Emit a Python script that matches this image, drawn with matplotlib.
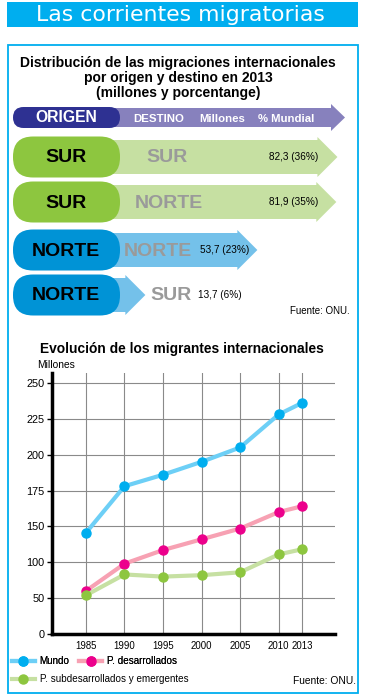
import matplotlib.pyplot as plt
import numpy as np
from matplotlib.patches import FancyBboxPatch, Polygon, Rectangle

plt.rcParams['font.family'] = ['Liberation Sans', 'DejaVu Sans']

# flows 2013 (millions, % of world)
origins = ['SUR', 'SUR', 'NORTE', 'NORTE']
destinations = ['SUR', 'NORTE', 'NORTE', 'SUR']
flow_millions = [82.3, 81.9, 53.7, 13.7]
flow_labels = ['82,3 (36%)', '81,9 (35%)', '53,7 (23%)', '13,7 (6%)']

# evolution of international migrants (millions)
years = [1985, 1990, 1995, 2000, 2005, 2010, 2013]
mundo = [141, 178, 186, 195, 205, 228, 236]
desarrollados = [60, 98, 117, 132, 147, 160, 164]
subdesarrollados = [54, 83, 80, 82, 86, 111, 118]
y_ticks = [0, 50, 100, 150, 175, 200, 225, 250]

CYAN = '#00AEEF'
pill_colors = {'SUR': '#8DC63F', 'NORTE': '#0093D6'}
arrow_colors = {'SUR': '#C6E0A2', 'NORTE': '#74C1EA'}
GRAY_TXT = '#9A9A9A'

fig = plt.figure(figsize=(3.66, 7.0), dpi=100)
fig.patch.set_facecolor('white')

# background layer in pixel coordinates
ax_bg = fig.add_axes([0, 0, 1, 1], zorder=0)
ax_bg.set_xlim(0, 366)
ax_bg.set_ylim(700, 0)
ax_bg.axis('off')
ax_bg.patch.set_visible(False)

ax_bg.add_patch(Rectangle((7, 2), 351, 25, color=CYAN, lw=0))
ax_bg.text(180, 15, 'Las corrientes migratorias', color='white', fontsize=15.8,
           family='DejaVu Sans', ha='center', va='center')
ax_bg.add_patch(Rectangle((7.5, 45), 350, 648, fill=False, ec=CYAN, lw=1.3))

ax_bg.text(178, 78, 'Distribución de las migraciones internacionales\n'
           'por origen y destino en 2013\n(millones y porcentange)',
           fontsize=10, fontweight='bold', ha='center', va='center',
           linespacing=1.05)

# header arrow
hy = 117.5
ax_bg.add_patch(Polygon([(110, hy - 9.5), (331, hy - 9.5), (331, hy - 13.5), (345, hy),
                         (331, hy + 13.5), (331, hy + 9.5), (110, hy + 9.5)],
                        closed=True, color='#8781BD', lw=0))

# arrows layer: x in millions
px_per_million = 2.8
ax_flow = fig.add_axes([107 / 366, 0, 259 / 366, 1], zorder=1)
ax_flow.set_xlim(0, 259 / px_per_million)
ax_flow.set_ylim(700, 0)
ax_flow.axis('off')
ax_flow.patch.set_visible(False)

row_y = [157, 202, 250, 295]
head = 20 / px_per_million
for cy, org, val in zip(row_y, origins, flow_millions):
    hb, hh = 17, 20
    pts = [(0, cy - hb), (val - head, cy - hb), (val - head, cy - hh), (val, cy),
           (val - head, cy + hh), (val - head, cy + hb), (0, cy + hb)]
    ax_flow.add_patch(Polygon(pts, closed=True, color=arrow_colors[org], lw=0))

# top layer: pills and texts
ax_top = fig.add_axes([0, 0, 1, 1], zorder=2)
ax_top.set_xlim(0, 366)
ax_top.set_ylim(700, 0)
ax_top.axis('off')
ax_top.patch.set_visible(False)

ax_top.add_patch(FancyBboxPatch((13, 107), 107, 21, boxstyle='round,pad=0,rounding_size=10.5',
                                color='#2E3192', lw=0))
ax_top.text(66, 118, 'ORIGEN', color='white', fontsize=11.3, fontweight='bold',
            ha='center', va='center')
for x, s in zip([133, 199, 258], ['DESTINO', 'Millones', '% Mundial']):
    ax_top.text(x, 119, s, color='white', fontsize=8.2, fontweight='bold',
                ha='left', va='center')

dest_x = [167, 169, 158, 171]
num_x = [269, 269, 200, 198]
for cy, org, dst, lab, dx, nx in zip(row_y, origins, destinations, flow_labels, dest_x, num_x):
    ax_top.add_patch(FancyBboxPatch((13, cy - 20.5), 107, 41,
                                    boxstyle='round,pad=0,rounding_size=20',
                                    color=pill_colors[org], lw=0))
    ax_top.text(66, cy + 1, org, fontsize=14, fontweight='bold', ha='center', va='center')
    ax_top.text(dx, cy + 1, dst, fontsize=14, fontweight='bold', color=GRAY_TXT,
                ha='center', va='center')
    ax_top.text(nx, cy, lab, fontsize=7.2, ha='left', va='center')

ax_top.text(350, 311, 'Fuente: ONU.', fontsize=7, ha='right', va='center')

# line chart
ax_top.text(182, 349, 'Evolución de los migrantes internacionales', fontsize=9.9,
            fontweight='bold', ha='center', va='center')
ax_top.text(37, 365, 'Millones', fontsize=7.4, ha='left', va='center')
ax_top.text(356, 681, 'Fuente: ONU.', fontsize=7.4, ha='right', va='center')


def fwd(v):
    v = np.asarray(v, dtype=float)
    return np.where(v <= 150, v / 50, 3 + (v - 150) / 25)


def inv(u):
    u = np.asarray(u, dtype=float)
    return np.where(u <= 3, u * 50, 150 + (u - 3) * 25)


ax = fig.add_axes([52 / 366, 1 - 634 / 700, 283 / 366, 261 / 700], zorder=3)
ax.set_yscale('function', functions=(fwd, inv))
ax.set_xlim(1980.6, 2017.3)
ax.set_ylim(0, 256.9)
ax.set_xticks(years)
ax.set_yticks(y_ticks)
ax.set_yticklabels([str(t) for t in y_ticks])
ax.minorticks_off()
ax.grid(True, color='#8A8A8A', lw=0.8)
ax.set_axisbelow(True)
for side in ['top', 'right']:
    ax.spines[side].set_visible(False)
for side in ['left', 'bottom']:
    ax.spines[side].set_linewidth(2.5)
ax.tick_params(axis='y', length=3.5, width=1, labelsize=7.8, pad=2)
ax.tick_params(axis='x', length=0, labelsize=6.9, pad=5)
ax.patch.set_visible(False)

series = [
    (mundo, '#6DCFF6', '#00AEEF', 'Mundo'),
    (desarrollados, '#F7A1B3', '#EC008C', 'P. desarrollados'),
    (subdesarrollados, '#C6E0A2', '#8DC63F', 'P. subdesarrollados y emergentes'),
]
handles = []
for vals, lc, mc, name in series:
    h, = ax.plot(years, vals, color=lc, lw=3, marker='o', markersize=6.5,
                 markerfacecolor=mc, markeredgecolor=mc, label=name, clip_on=False)
    handles.append(h)

leg1 = fig.legend(handles=handles[:2], loc='center left', bbox_to_anchor=(12 / 366, 1 - 661 / 700),
                  ncol=2, frameon=False, fontsize=7.1, borderpad=0, borderaxespad=0,
                  handlelength=2.3, handletextpad=0.5, columnspacing=1.0)
fig.add_artist(leg1)
fig.legend(handles=handles[2:], loc='center left', bbox_to_anchor=(12 / 366, 1 - 679 / 700),
           frameon=False, fontsize=7.1, borderpad=0, borderaxespad=0,
           handlelength=2.3, handletextpad=0.5)

plt.savefig('out.png', dpi=100)
